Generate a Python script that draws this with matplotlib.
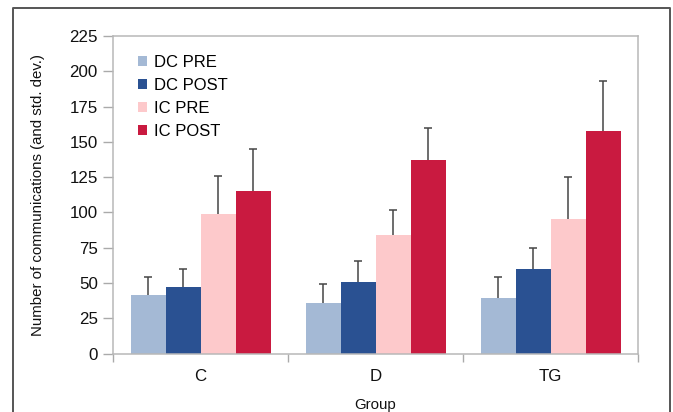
import matplotlib
matplotlib.use("Agg")
import matplotlib.pyplot as plt
import numpy as np
from matplotlib.patches import Patch
from matplotlib.lines import Line2D

plt.rcParams['font.family'] = ['Liberation Sans', 'DejaVu Sans']

groups = ["C", "D", "TG"]
series = ["DC PRE", "DC POST", "IC PRE", "IC POST"]
dc_pre = [41.5, 35.5, 39.5]
dc_post = [47, 50.5, 60]
ic_pre = [99, 84, 95.5]
ic_post = [115, 137, 158]
dc_pre_sd = [13, 13.5, 15]
dc_post_sd = [13, 15, 15]
ic_pre_sd = [26.5, 18, 29.5]
ic_post_sd = [30, 22.5, 35]
colors = ["#a4b9d5", "#2a5192", "#fdc9cb", "#c91a40"]

values = [dc_pre, dc_post, ic_pre, ic_post]
sds = [dc_pre_sd, dc_post_sd, ic_pre_sd, ic_post_sd]

W, H = 673, 412
fig = plt.figure(figsize=(W/100, H/100), dpi=100)
ax = fig.add_axes([113/W, 1-353.5/H, (638-113)/W, (353.5-36)/H])

x = np.arange(len(groups))
bw = 0.2
for i, (vals, sd, c) in enumerate(zip(values, sds, colors)):
    pos = x + (i - 1.5) * bw
    vals = np.asarray(vals, float)
    sd = np.asarray(sd, float)
    ax.bar(pos, vals, width=bw, color=c, zorder=2, label=series[i])
    ax.errorbar(pos, vals, yerr=[np.zeros(len(sd)), sd], fmt='none',
                ecolor='#454545', elinewidth=1.1, capsize=0, zorder=3)
    ax.plot(pos, vals + sd, linestyle='none', marker='_', markersize=6,
            markeredgewidth=1.1, color='#454545', zorder=3)

ax.set_xlim(-0.5, 2.5)
ax.set_ylim(0, 225)
ax.set_yticks(np.arange(0, 226, 25))
ax.set_xticks([-0.5, 0.5, 1.5, 2.5])
ax.set_xticklabels([])
ax.set_xticks(x, minor=True)
ax.set_xticklabels(groups, minor=True)
ax.tick_params(axis='x', which='major', direction='out', length=6, color='#aaaaaa', width=1)
ax.tick_params(axis='x', which='minor', length=0, pad=11, labelsize=12.2, labelcolor='#111111')
ax.tick_params(axis='y', direction='out', length=7, color='#aaaaaa', width=1, pad=4,
               labelsize=12.2, labelcolor='#111111')
for s in ax.spines.values():
    s.set_color('#b8b8b8')
    s.set_linewidth(1.1)

ax.set_ylabel("Number of communications (and std. dev.)", fontsize=10.8, color='#111111')
ax.yaxis.set_label_coords((45-113)/525, 0.5)
ax.set_xlabel("Group", fontsize=10.8, color='#111111')
ax.xaxis.set_label_coords(0.5, (353.5-398)/317.5)

handles = [Patch(facecolor=c, edgecolor='none') for c in colors]
ax.legend(handles, series, loc='upper left', bbox_to_anchor=(25/525, 0.94),
          frameon=False, fontsize=12, handlelength=0.55, handleheight=0.55,
          handletextpad=0.38, labelspacing=0.48, borderpad=0, borderaxespad=0)

fx0, fx1, fy = 13/W, 670/W, 1-8/H
fig.add_artist(Line2D([fx0, fx0, fx1, fx1], [0, fy, fy, 0], transform=fig.transFigure,
                      color='#555555', linewidth=1.4))

fig.savefig("out.png", dpi=100)
